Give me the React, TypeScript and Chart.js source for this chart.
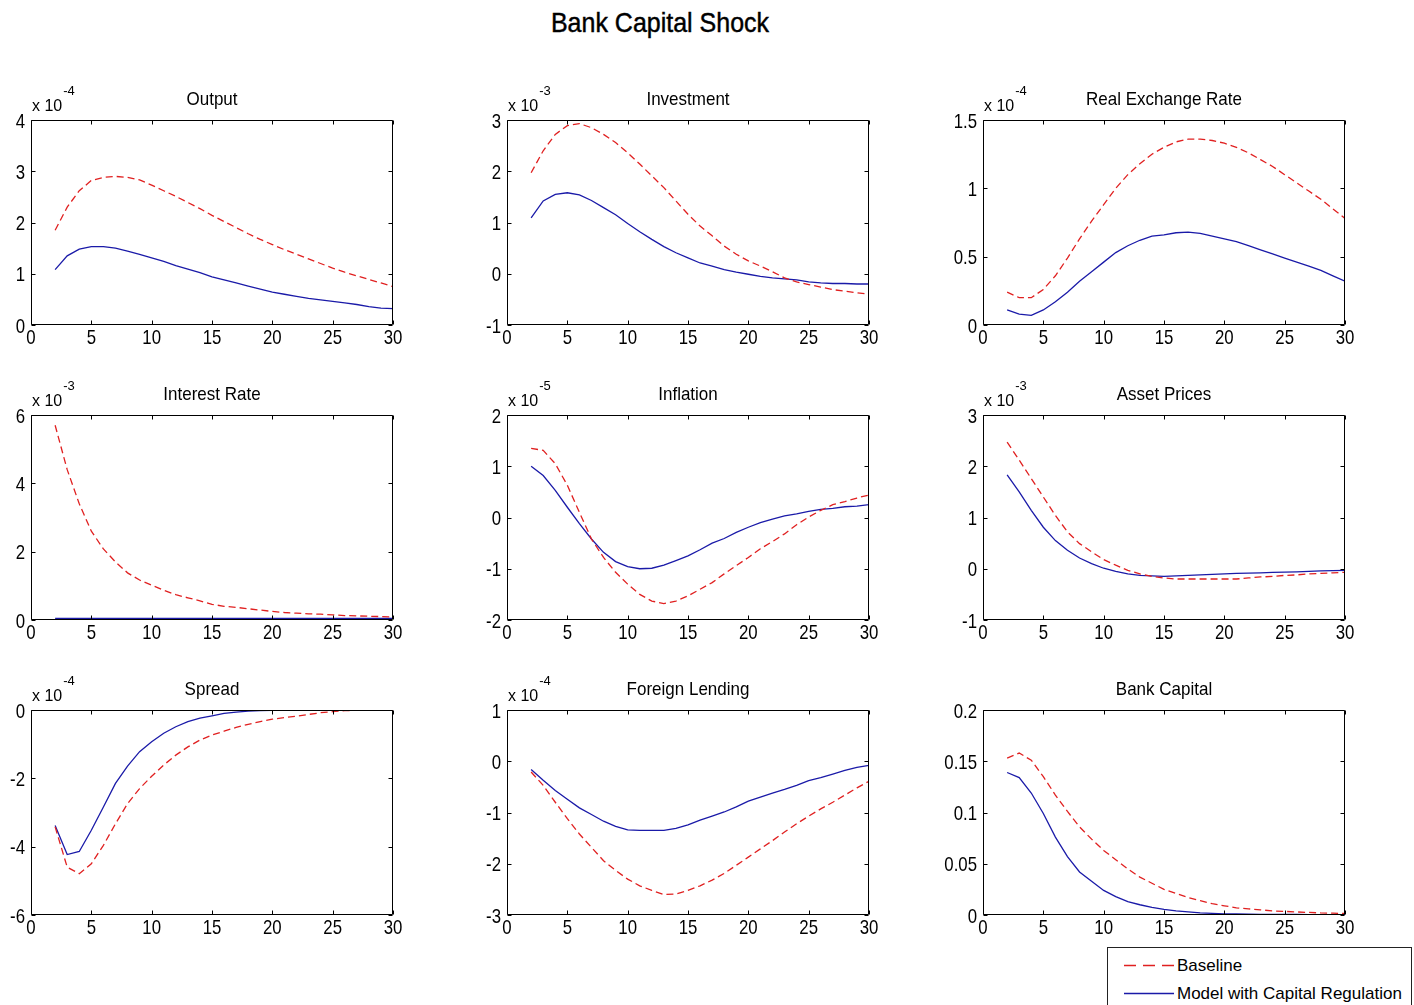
import React, { useEffect, useRef } from "react";
import { Chart, registerables } from "chart.js";

Chart.register(...registerables);

// ---------------- data ----------------
const periods = [2, 3, 4, 5, 6, 7, 8, 9, 10, 11, 12, 13, 14, 15, 16, 17, 18, 19, 20, 21, 22, 23, 24, 25, 26, 27, 28, 29, 30];
const xTicks = [0, 5, 10, 15, 20, 25, 30];

// Output (x 10^-4)
const outputBaseline = [1.85, 2.3, 2.62, 2.82, 2.88, 2.9, 2.88, 2.83, 2.73, 2.62, 2.51, 2.39, 2.27, 2.14, 2.02, 1.9, 1.78, 1.67, 1.57, 1.47, 1.38, 1.29, 1.2, 1.11, 1.03, 0.96, 0.89, 0.82, 0.75];
const outputCapReg = [1.08, 1.35, 1.48, 1.53, 1.53, 1.5, 1.44, 1.38, 1.31, 1.24, 1.16, 1.09, 1.02, 0.94, 0.88, 0.82, 0.76, 0.7, 0.64, 0.6, 0.56, 0.52, 0.49, 0.46, 0.43, 0.4, 0.36, 0.33, 0.32];
const outputTicks = [0, 1, 2, 3, 4];

// Investment (x 10^-3)
const investmentBaseline = [1.97, 2.4, 2.72, 2.89, 2.93, 2.85, 2.72, 2.56, 2.36, 2.14, 1.91, 1.68, 1.42, 1.16, 0.93, 0.74, 0.54, 0.38, 0.25, 0.15, 0.04, -0.08, -0.16, -0.21, -0.26, -0.31, -0.34, -0.37, -0.4];
const investmentCapReg = [1.09, 1.42, 1.55, 1.58, 1.54, 1.43, 1.29, 1.15, 0.98, 0.82, 0.67, 0.53, 0.41, 0.31, 0.21, 0.15, 0.08, 0.03, -0.01, -0.05, -0.08, -0.1, -0.12, -0.16, -0.18, -0.19, -0.19, -0.2, -0.2];
const investmentTicks = [-1, 0, 1, 2, 3];

// Real Exchange Rate (x 10^-4)
const rerBaseline = [0.24, 0.2, 0.2, 0.26, 0.36, 0.49, 0.63, 0.76, 0.88, 1.0, 1.1, 1.18, 1.25, 1.3, 1.34, 1.36, 1.36, 1.35, 1.33, 1.3, 1.26, 1.21, 1.16, 1.1, 1.04, 0.98, 0.92, 0.85, 0.78];
const rerCapReg = [0.11, 0.08, 0.07, 0.11, 0.17, 0.24, 0.32, 0.39, 0.46, 0.53, 0.58, 0.62, 0.65, 0.66, 0.675, 0.68, 0.67, 0.65, 0.63, 0.61, 0.58, 0.55, 0.52, 0.49, 0.46, 0.43, 0.4, 0.36, 0.32];
const rerTicks = [0, 0.5, 1, 1.5];

// Interest Rate (x 10^-3)
const interestBaseline = [5.7, 4.4, 3.4, 2.6, 2.08, 1.7, 1.38, 1.17, 1.02, 0.87, 0.74, 0.65, 0.56, 0.46, 0.4, 0.37, 0.33, 0.29, 0.25, 0.22, 0.2, 0.18, 0.17, 0.15, 0.13, 0.12, 0.11, 0.1, 0.09];
const interestCapReg = [0.05, 0.05, 0.05, 0.05, 0.05, 0.05, 0.05, 0.05, 0.05, 0.05, 0.05, 0.05, 0.05, 0.05, 0.05, 0.05, 0.05, 0.05, 0.05, 0.05, 0.05, 0.05, 0.05, 0.05, 0.05, 0.05, 0.05, 0.05, 0.05];
const interestTicks = [0, 2, 4, 6];

// Inflation (x 10^-5)
const inflationBaseline = [1.35, 1.31, 1.05, 0.63, 0.1, -0.42, -0.78, -1.07, -1.3, -1.5, -1.63, -1.68, -1.63, -1.53, -1.4, -1.27, -1.1, -0.94, -0.78, -0.61, -0.47, -0.32, -0.14, 0.01, 0.14, 0.25, 0.31, 0.38, 0.44];
const inflationCapReg = [1.0, 0.82, 0.53, 0.2, -0.12, -0.42, -0.68, -0.86, -0.96, -1.0, -0.99, -0.93, -0.84, -0.75, -0.63, -0.5, -0.41, -0.29, -0.19, -0.1, -0.03, 0.03, 0.07, 0.12, 0.16, 0.18, 0.21, 0.22, 0.25];
const inflationTicks = [-2, -1, 0, 1, 2];

// Asset Prices (x 10^-3)
const assetBaseline = [2.47, 2.12, 1.76, 1.4, 1.04, 0.72, 0.49, 0.33, 0.18, 0.07, -0.03, -0.1, -0.15, -0.18, -0.2, -0.2, -0.2, -0.2, -0.2, -0.2, -0.18, -0.16, -0.15, -0.13, -0.12, -0.1, -0.09, -0.08, -0.07];
const assetCapReg = [1.83, 1.5, 1.14, 0.81, 0.55, 0.36, 0.21, 0.1, 0.01, -0.05, -0.1, -0.13, -0.14, -0.15, -0.14, -0.13, -0.12, -0.11, -0.1, -0.09, -0.085, -0.08, -0.07, -0.065, -0.06, -0.05, -0.04, -0.035, -0.03];
const assetTicks = [-1, 0, 1, 2, 3];

// Spread (x 10^-4)
const spreadBaseline = [-3.42, -4.6, -4.79, -4.5, -3.96, -3.33, -2.74, -2.3, -1.94, -1.61, -1.32, -1.08, -0.88, -0.73, -0.62, -0.51, -0.42, -0.34, -0.27, -0.22, -0.18, -0.13, -0.08, -0.05, -0.02, -0.01, 0, 0, 0];
const spreadCapReg = [-3.38, -4.23, -4.14, -3.52, -2.84, -2.15, -1.64, -1.22, -0.93, -0.68, -0.49, -0.34, -0.24, -0.17, -0.1, -0.06, -0.03, -0.02, -0.01, 0, 0, 0, 0, 0, 0, 0, 0, 0, 0];
const spreadTicks = [-6, -4, -2, 0];

// Foreign Lending (x 10^-4)
const foreignBaseline = [-0.21, -0.47, -0.8, -1.12, -1.42, -1.68, -1.94, -2.13, -2.3, -2.43, -2.52, -2.6, -2.59, -2.52, -2.43, -2.32, -2.19, -2.03, -1.87, -1.71, -1.55, -1.38, -1.22, -1.07, -0.93, -0.8, -0.66, -0.52, -0.39];
const foreignCapReg = [-0.16, -0.37, -0.57, -0.74, -0.91, -1.04, -1.17, -1.27, -1.34, -1.35, -1.35, -1.35, -1.31, -1.24, -1.15, -1.07, -0.99, -0.89, -0.78, -0.7, -0.62, -0.55, -0.47, -0.38, -0.32, -0.25, -0.18, -0.12, -0.08];
const foreignTicks = [-3, -2, -1, 0, 1];

// Bank Capital
const bankBaseline = [0.153, 0.158, 0.151, 0.135, 0.117, 0.101, 0.086, 0.074, 0.063, 0.054, 0.045, 0.037, 0.031, 0.025, 0.021, 0.017, 0.014, 0.011, 0.009, 0.007, 0.006, 0.005, 0.004, 0.0035, 0.003, 0.0025, 0.002, 0.0018, 0.0015];
const bankCapReg = [0.139, 0.134, 0.119, 0.099, 0.076, 0.057, 0.042, 0.033, 0.024, 0.018, 0.013, 0.01, 0.0075, 0.0055, 0.004, 0.003, 0.002, 0.0015, 0.001, 0.001, 0.0008, 0.0007, 0.0006, 0.0005, 0.0005, 0.0004, 0.0004, 0.0003, 0.0003];
const bankTicks = [0, 0.05, 0.1, 0.15, 0.2];

const titles = ["Output", "Investment", "Real Exchange Rate", "Interest Rate", "Inflation", "Asset Prices", "Spread", "Foreign Lending", "Bank Capital"];
const exponents = ["-4", "-3", "-4", "-3", "-5", "-3", "-4", "-4", ""];
const baselineSeries = [outputBaseline, investmentBaseline, rerBaseline, interestBaseline, inflationBaseline, assetBaseline, spreadBaseline, foreignBaseline, bankBaseline];
const capRegSeries = [outputCapReg, investmentCapReg, rerCapReg, interestCapReg, inflationCapReg, assetCapReg, spreadCapReg, foreignCapReg, bankCapReg];
const yTickSets = [outputTicks, investmentTicks, rerTicks, interestTicks, inflationTicks, assetTicks, spreadTicks, foreignTicks, bankTicks];

const legendLabels = ["Baseline", "Model with Capital Regulation"];

// ---------------- layout / style ----------------
const COL_LEFT = [31, 507, 983];
const ROW_TOP = [120, 415, 710];
const PLOT_W = 362;
const PLOT_H = 205;
const PAD_L = 48;
const PAD_T = 48;
const PAD_R = 26;
const PAD_B = 36;
const CW = PLOT_W + PAD_L + PAD_R;
const CH = PLOT_H + PAD_T + PAD_B;

const RED = "#e02020";
const BLUE = "#1a1aa8";
const TEXT_FONT = "'Liberation Sans', Arial, Helvetica, sans-serif";
const TICK_SIZE = 21;
const TICK_SX = 0.8;

const matlabAxes = {
  id: "matlabAxes",
  afterDraw(chart: any, _args: any, opts: any) {
    const { ctx, chartArea: a, scales } = chart;
    const xs = scales.x;
    const ys = scales.y;
    ctx.save();
    ctx.strokeStyle = "#000";
    ctx.lineWidth = 1;
    const l = Math.round(a.left) + 0.5;
    const r = Math.round(a.right) - 0.5;
    const t = Math.round(a.top) + 0.5;
    const b = Math.round(a.bottom) - 0.5;
    const tl = 4;
    ctx.beginPath();
    ctx.rect(l, t, r - l, b - t);
    xs.ticks.forEach((tk: any) => {
      const px = Math.round(xs.getPixelForValue(tk.value)) + 0.5;
      ctx.moveTo(px, b);
      ctx.lineTo(px, b - tl);
      ctx.moveTo(px, t);
      ctx.lineTo(px, t + tl);
    });
    ys.ticks.forEach((tk: any) => {
      const py = Math.round(ys.getPixelForValue(tk.value)) + 0.5;
      ctx.moveTo(l, py);
      ctx.lineTo(l + tl, py);
      ctx.moveTo(r, py);
      ctx.lineTo(r - tl, py);
    });
    ctx.stroke();

    ctx.fillStyle = "#000";
    ctx.textBaseline = "alphabetic";

    // tick labels (condensed, MATLAB-like), positioned from the library's scales
    ctx.font = TICK_SIZE + "px " + TEXT_FONT;
    const drawLabel = (txt: string, x: number, y: number, align: string) => {
      ctx.save();
      ctx.translate(x, y);
      ctx.scale(TICK_SX, 1);
      ctx.textAlign = align;
      ctx.fillText(txt, 0, 0);
      ctx.restore();
    };
    xs.ticks.forEach((tk: any) => {
      drawLabel(String(tk.value), xs.getPixelForValue(tk.value), a.bottom + 19, "center");
    });
    ys.ticks.forEach((tk: any) => {
      drawLabel(String(tk.value), a.left - 6, ys.getPixelForValue(tk.value) + 7.5, "right");
    });

    ctx.textAlign = "center";
    ctx.font = "17px " + TEXT_FONT;
    ctx.save();
    ctx.translate((a.left + a.right) / 2, a.top - 15);
    ctx.scale(1, 1.08);
    ctx.fillText(opts.title, 0, 0);
    ctx.restore();
    if (opts.exp) {
      ctx.textAlign = "left";
      ctx.font = "16px " + TEXT_FONT;
      const base = "x 10";
      ctx.fillText(base, a.left + 1, a.top - 9);
      const w = ctx.measureText(base).width;
      ctx.font = "13px " + TEXT_FONT;
      ctx.fillText(opts.exp, a.left + 1 + w + 1, a.top - 25);
    }
    ctx.restore();
  },
};

function Panel({ idx }: { idx: number }) {
  const ref = useRef<HTMLCanvasElement>(null);
  const col = idx % 3;
  const row = Math.floor(idx / 3);
  const left = COL_LEFT[col] - PAD_L;
  const top = ROW_TOP[row] - PAD_T;

  useEffect(() => {
    const yt = yTickSets[idx];
    const mk = (vals: number[]) => periods.map((p, i) => ({ x: p, y: vals[i] }));
    const chart = new Chart(ref.current as HTMLCanvasElement, {
      type: "line",
      data: {
        datasets: [
          {
            label: legendLabels[0],
            data: mk(baselineSeries[idx]),
            borderColor: RED,
            borderWidth: 1.3,
            borderDash: [7, 4],
            pointRadius: 0,
            tension: 0,
            fill: false,
          },
          {
            label: legendLabels[1],
            data: mk(capRegSeries[idx]),
            borderColor: BLUE,
            borderWidth: 1.3,
            pointRadius: 0,
            tension: 0,
            fill: false,
          },
        ],
      },
      options: {
        animation: false,
        responsive: false,
        maintainAspectRatio: false,
        devicePixelRatio: 1,
        events: [],
        layout: { padding: { top: PAD_T, right: PAD_R, left: 0, bottom: 0 } },
        plugins: {
          legend: { display: false },
          tooltip: { enabled: false },
          title: { display: false },
          matlabAxes: { title: titles[idx], exp: exponents[idx] },
        } as any,
        scales: {
          x: {
            type: "linear",
            min: 0,
            max: 30,
            grid: { display: false, drawTicks: false },
            border: { display: false },
            ticks: {
              color: "rgba(0,0,0,0)",
              padding: 3,
              maxRotation: 0,
              autoSkip: false,
              font: { family: TEXT_FONT, size: 12 },
            },
            afterBuildTicks: (s: any) => {
              s.ticks = xTicks.map((v) => ({ value: v }));
            },
            afterFit: (s: any) => {
              s.height = PAD_B;
            },
          },
          y: {
            type: "linear",
            min: yt[0],
            max: yt[yt.length - 1],
            grid: { display: false, drawTicks: false },
            border: { display: false },
            ticks: {
              color: "rgba(0,0,0,0)",
              padding: 6,
              autoSkip: false,
              font: { family: TEXT_FONT, size: 12 },
              callback: (v: any) => String(v),
            },
            afterBuildTicks: (s: any) => {
              s.ticks = yt.map((v) => ({ value: v }));
            },
            afterFit: (s: any) => {
              s.width = PAD_L;
            },
          },
        },
      } as any,
      plugins: [matlabAxes as any],
    });
    return () => chart.destroy();
  }, [idx]);

  return (
    <canvas
      ref={ref}
      width={CW}
      height={CH}
      style={{ position: "absolute", left, top, width: CW, height: CH, display: "block" }}
    />
  );
}

export default function App() {
  return (
    <div
      style={{
        position: "absolute",
        left: 0,
        top: 0,
        width: 1414,
        height: 1005,
        overflow: "hidden",
        background: "#fff",
        fontFamily: TEXT_FONT,
        color: "#000",
      }}
    >
      <div
        style={{
          position: "absolute",
          left: 460,
          top: 11,
          width: 400,
          textAlign: "center",
          fontSize: 25,
          lineHeight: "25px",
          whiteSpace: "nowrap",
          transform: "scaleY(1.09)",
          transformOrigin: "50% 21px",
          WebkitTextStroke: "0.4px #000",
        }}
      >
        Bank Capital Shock
      </div>
      {titles.map((_, i) => (
        <Panel key={i} idx={i} />
      ))}
      <div
        style={{
          position: "absolute",
          left: 1107,
          top: 947,
          width: 305,
          height: 80,
          border: "1px solid #222",
          boxSizing: "border-box",
          background: "#fff",
        }}
      >
        <svg width={60} height={60} style={{ position: "absolute", left: 15, top: 0 }}>
          <line x1={1} y1={17.5} x2={51} y2={17.5} stroke={RED} strokeWidth={1.3} strokeDasharray="12 7" />
          <line x1={1} y1={45.5} x2={51} y2={45.5} stroke={BLUE} strokeWidth={1.3} />
        </svg>
        <div style={{ position: "absolute", left: 69, top: 9, fontSize: 17, lineHeight: "17px", whiteSpace: "nowrap" }}>
          {legendLabels[0]}
        </div>
        <div style={{ position: "absolute", left: 69, top: 37, fontSize: 17, lineHeight: "17px", whiteSpace: "nowrap" }}>
          {legendLabels[1]}
        </div>
      </div>
    </div>
  );
}
